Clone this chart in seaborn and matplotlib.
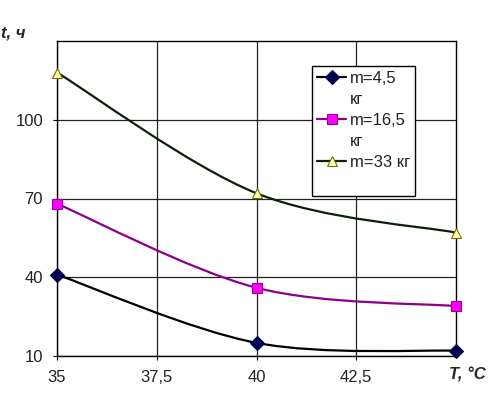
import numpy as np
import pandas as pd
import matplotlib
matplotlib.use("Agg")
import matplotlib.pyplot as plt
import seaborn as sns
from matplotlib.path import Path
from matplotlib.patches import PathPatch
from matplotlib.lines import Line2D

# ---- data ----
temps = [35, 40, 45]
t_m45 = [41, 15, 12]
t_m165 = [68, 36, 29]
t_m33 = [118, 72, 57]
series_labels = ["m=4,5 кг", "m=16,5 кг", "m=33 кг"]
x_ticks = [35, 37.5, 40, 42.5]
x_ticklabels = ["35", "37,5", "40", "42,5"]
y_ticks = [10, 40, 70, 100]
y_ticklabels = ["10", "40", "70", "100"]

sns.set_style("white")
plt.rcParams["font.family"] = ["Liberation Sans", "DejaVu Sans"]

fig = plt.figure(figsize=(4.9, 3.98), dpi=100)
ax = fig.add_axes([57/490, 1-356/398, (456-57)/490, (356-41)/398])

styles = [
    dict(line="#000000", marker="D", mfc="#000050", mec="#000050", ms=7),
    dict(line="#8a008a", marker="s", mfc="#ff00ff", mec="#990099", ms=6.5),
    dict(line="#0a200a", marker="^", mfc="#ffffb0", mec="#707000", ms=7),
]
ys = [t_m45, t_m165, t_m33]

def smooth_path(x, y):
    pts = np.column_stack([x, y]).astype(float)
    n = len(pts)
    verts = [pts[0]]
    codes = [Path.MOVETO]
    for i in range(n - 1):
        p0 = pts[i - 1] if i > 0 else pts[i]
        p1 = pts[i]
        p2 = pts[i + 1]
        p3 = pts[i + 2] if i + 2 < n else pts[i + 1]
        c1 = p1 + (p2 - p0) / 6.0
        c2 = p2 - (p3 - p1) / 6.0
        verts += [c1, c2, p2]
        codes += [Path.CURVE4] * 3
    return Path(verts, codes)

rows = []
for lab, yv in zip(series_labels, ys):
    for xv, v in zip(temps, yv):
        rows.append(dict(T=xv, t=v, m=lab))
df = pd.DataFrame(rows)

for lab, yv, st in zip(series_labels, ys, styles):
    ax.add_patch(PathPatch(smooth_path(temps, yv), fill=False,
                           edgecolor=st["line"], lw=1.6, zorder=3))
    sub = df[df.m == lab]
    sns.lineplot(data=sub, x="T", y="t", ax=ax, linestyle="none",
                 marker=st["marker"], markersize=st["ms"],
                 markerfacecolor=st["mfc"], markeredgecolor=st["mec"],
                 markeredgewidth=0.8, zorder=4, legend=False, clip_on=False)

ax.set_xlim(35, 45)
ax.set_ylim(10, 130)
ax.set_xticks(x_ticks)
ax.set_xticklabels(x_ticklabels)
ax.set_yticks(y_ticks)
ax.set_yticklabels(y_ticklabels)
ax.set_xlabel("")
ax.set_ylabel("")
ax.tick_params(axis="both", labelsize=12, colors="#000000", labelcolor="#222222",
               length=3, width=0.8, pad=7, direction="out")
ax.tick_params(axis="x", bottom=True)
ax.tick_params(axis="y", left=True)
ax.grid(True, color="#222222", lw=0.9)
for s in ax.spines.values():
    s.set_color("#000000")
    s.set_linewidth(1.0)
    s.set_visible(True)

# axis titles
fig.text(25/490, 1-33/398, "t, ч", ha="right", va="center",
         fontsize=12, fontweight="bold", fontstyle="italic")
fig.text(486/490, 1-375/398, "T, °C", ha="right", va="center",
         fontsize=12, fontweight="bold", fontstyle="italic")

# legend
handles = []
labels = []
leg_rows = [("m=4,5", 0), ("кг", None), ("m=16,5", 1), ("кг", None), ("m=33 кг", 2), (" ", None)]
for txt, idx in leg_rows:
    if idx is None:
        handles.append(Line2D([], [], linestyle="none", marker="none"))
    else:
        st = styles[idx]
        handles.append(Line2D([], [], color=st["line"], lw=1.6, marker=st["marker"],
                              markersize=st["ms"], markerfacecolor=st["mfc"],
                              markeredgecolor=st["mec"], markeredgewidth=0.8))
    labels.append(txt)
leg = ax.legend(handles, labels, loc="upper left",
                bbox_to_anchor=((312-57)/399, (356-66)/315),
                borderaxespad=0, fontsize=12, frameon=True, fancybox=False,
                handlelength=1.75, handletextpad=0.2, labelspacing=0.36,
                borderpad=0.3, markerscale=1.0, numpoints=1)
leg.get_frame().set_edgecolor("#000000")
leg.get_frame().set_linewidth(1.0)
leg.get_frame().set_facecolor("white")
leg.get_frame().set_alpha(1)
for t in leg.get_texts():
    t.set_color("#222222")

fig.savefig("out.png", dpi=100, facecolor="white")
